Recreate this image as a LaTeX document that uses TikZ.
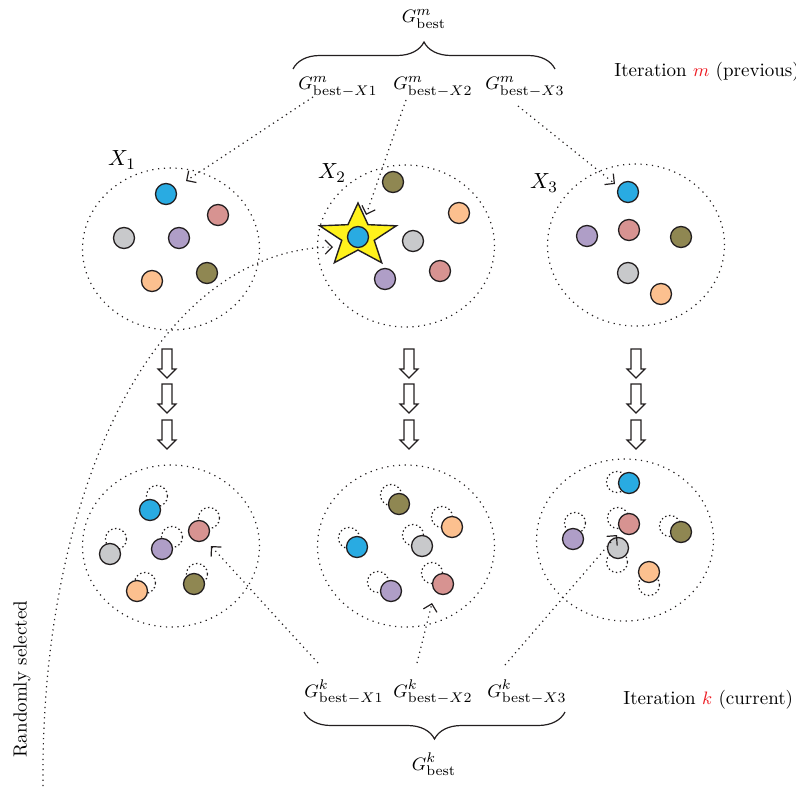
\documentclass[tikz,border=0pt]{standalone}
\usetikzlibrary{shapes.geometric,arrows.meta,decorations.pathreplacing}
\definecolor{dk}{HTML}{231F20}
\definecolor{cblue}{HTML}{29ABE2}
\definecolor{cpink}{HTML}{D79391}
\definecolor{cgrey}{HTML}{C8C9CB}
\definecolor{cpurp}{HTML}{AF9EC7}
\definecolor{corng}{HTML}{FCC08F}
\definecolor{colive}{HTML}{8F8752}
\definecolor{cstar}{HTML}{FFF21C}
\definecolor{cred}{HTML}{ED1C24}
\tikzset{
  pt/.style={circle, draw=dk, line width=0.65pt, minimum size=10.5pt, inner sep=0pt},
  ghost/.style={circle, draw=dk, dash pattern=on 0.7pt off 1.3pt, line width=0.6pt, minimum size=10.5pt, inner sep=0pt},
  grp/.style={ellipse, draw=dk, dash pattern=on 0.6pt off 2.3pt, line width=0.6pt, minimum width=88.5pt, minimum height=81pt, inner sep=0pt},
  conn/.style={dk, dash pattern=on 0.6pt off 2pt, line width=0.6pt, -{Straight Barb[length=3.5pt,width=7pt]}},
  blk/.style={draw=dk, line width=0.6pt, fill=white},
  txt/.style={font=\fontsize{9.5}{11}\selectfont, inner sep=0pt},
  xlab/.style={font=\fontsize{11}{13}\selectfont, inner sep=0pt},
  brc/.style={draw=dk, line width=0.6pt, decorate},
  downarrow/.pic={\draw[blk] (-5,0) -- (5,0) -- (5,20) -- (9,20) -- (0,29) -- (-9,20) -- (-5,20) -- cycle;}
}
\begin{document}
\begin{tikzpicture}[x=0.5pt,y=-0.5pt]
\useasboundingbox (0,0) rectangle (796,786);

% group ellipses
\node[grp] (e1) at (171,249) {};
\node[grp] (e2) at (406,246) {};
\node[grp] (e3) at (636,245) {};
\node[grp] (f1) at (171,546) {};
\node[grp] (f2) at (406,546) {};
\node[grp] (f3) at (625,540) {};

% group labels
\node[xlab] (lx1) at (122,160) {$X_1$};
\node[xlab] (lx2) at (332,173) {$X_2$};
\node[xlab] (lx3) at (544,183) {$X_3$};

% star
\draw[fill=cstar, draw=dk, line width=0.7pt, shift={(358,236)}, xscale=1.22]
  (270:33) -- (306:14) -- (342:33) -- (18:14) -- (54:33) -- (90:14) -- (126:33) -- (162:14) -- (198:33) -- (234:14) -- cycle;

% top circles
\foreach \n/\x/\y/\c in {
  a1/166/194/cblue, a2/218/215/cpink, a3/124/238/cgrey, a4/179/238/cpurp, a5/152/281/corng, a6/207/273/colive,
  b1/393/182/colive, b2/459/213/corng, b3/358/237/cblue, b4/413/241/cgrey, b5/440/271/cpink, b6/385/279/cpurp,
  c1/628/192/cblue, c2/629/230/cpink, c3/587/236/cpurp, c4/681/237/colive, c5/628/273/cgrey, c6/661/294/corng}
  \node[pt, fill=\c] (\n) at (\x,\y) {};

% bottom ghosts and circles
\foreach \n/\x/\y/\gx/\gy/\c in {
  p1/150/510/157/496/cblue, p2/199/531/209/518/cpink, p3/110/554/116/539/cgrey,
  p4/162/549/172/537/cpurp, p5/137/591/145/583/corng, p6/194/584/197/574/colive,
  q1/399/504/391/495/colive, q2/452/527/442/517/corng, q3/357/547/349/538/cblue,
  q4/422/546/413/535/cgrey, q5/391/591/378/582/cpurp, q6/443/584/432/573/cpink,
  r1/629/483/617/482/cblue, r2/629/524/618/518/cpink, r3/681/532/670/526/colive,
  r4/573/539/575/523/cpurp, r5/618/548/617/562/cgrey, r6/649/572/649/585/corng}
  \node[ghost] (g\n) at (\gx,\gy) {};
\foreach \n/\x/\y/\gx/\gy/\c in {
  p1/150/510/157/496/cblue, p2/199/531/209/518/cpink, p3/110/554/116/539/cgrey,
  p4/162/549/172/537/cpurp, p5/137/591/145/583/corng, p6/194/584/197/574/colive,
  q1/399/504/391/495/colive, q2/452/527/442/517/corng, q3/357/547/349/538/cblue,
  q4/422/546/413/535/cgrey, q5/391/591/378/582/cpurp, q6/443/584/432/573/cpink,
  r1/629/483/617/482/cblue, r2/629/524/618/518/cpink, r3/681/532/670/526/colive,
  r4/573/539/575/523/cpurp, r5/618/548/617/562/cgrey, r6/649/572/649/585/corng}
  \node[pt, fill=\c] (\n) at (\x,\y) {};

% block arrows
\foreach \ax in {167,409,636}{
  \pic at (\ax,349) {downarrow};
  \pic at (\ax,384) {downarrow};
  \pic at (\ax,420) {downarrow};
}

% top labels and brace
\node[txt, anchor=base] (gm) at (424,23) {$G^{m\vphantom{k}}_{\mathrm{best}}$};
\node[txt, anchor=base] (gm1) at (338,90) {$G^{m\vphantom{k}}_{\mathrm{best}-X1}$};
\node[txt, anchor=base] (gm2) at (433,90) {$G^{m\vphantom{k}}_{\mathrm{best}-X2}$};
\node[txt, anchor=base] (gm3) at (525,90) {$G^{m\vphantom{k}}_{\mathrm{best}-X3}$};
\draw[brc, decoration={brace, amplitude=13.5pt}] (293,69) -- (555,69);
\node[txt, anchor=base west] (itm) at (614,77) {Iteration \textcolor{cred}{$m$} (previous)};

% bottom labels and brace
\node[txt, anchor=base] (gk1) at (344,697) {$G^{k}_{\mathrm{best}-X1}$};
\node[txt, anchor=base] (gk2) at (433,697) {$G^{k}_{\mathrm{best}-X2}$};
\node[txt, anchor=base] (gk3) at (527,697) {$G^{k}_{\mathrm{best}-X3}$};
\draw[brc, decoration={brace, mirror, amplitude=13.5pt}] (304,712) -- (565,712);
\node[txt, anchor=base] (gk) at (434,770) {$G^{k}_{\mathrm{best}}$};
\node[txt, anchor=base west] (itk) at (623,704) {Iteration \textcolor{cred}{$k$} (current)};

\node[txt, rotate=90] (rs) at (22,679) {Randomly selected};

% connector end points
\coordinate (s1) at (313,97);   \coordinate (t1) at (186,181);
\coordinate (s2) at (406,100);  \coordinate (t2) at (366,215);
\coordinate (s3) at (518,106);  \coordinate (t3) at (615,184);
\coordinate (s4) at (43,786);   \coordinate (t4) at (333,247);
\coordinate (s5) at (318,663);  \coordinate (t5) at (211,546);
\coordinate (s6) at (417,663);  \coordinate (t6) at (432,603);
\coordinate (s7) at (505,665);  \coordinate (t7) at (617,535);

\draw[conn] (s1) -- (t1);
\draw[conn] (s2) -- (t2);
\draw[conn] (s3) -- (t3);
\draw[conn] (s4) .. controls (40,500) and (150,250) .. (t4);
\draw[conn] (s5) -- (t5);
\draw[conn] (s6) -- (t6);
\draw[conn] (s7) -- (t7);
\end{tikzpicture}
\end{document}
